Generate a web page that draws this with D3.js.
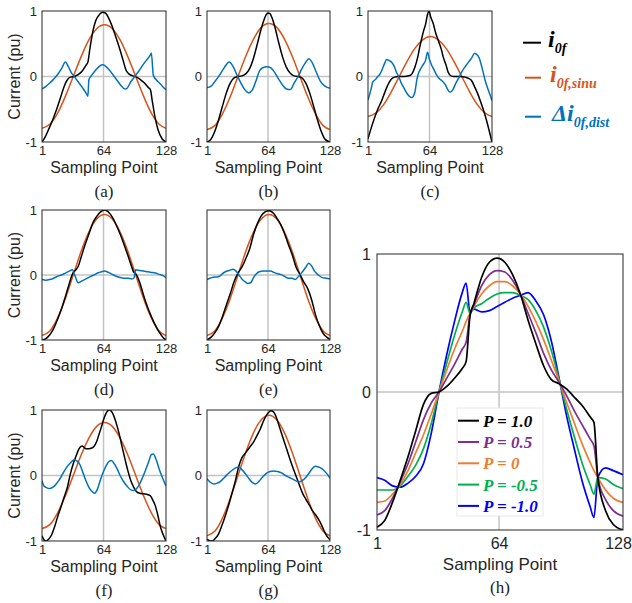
<!DOCTYPE html>
<html>
<head>
<meta charset="utf-8">
<title>Zero-sequence current waveforms</title>
<script src="https://cdn.jsdelivr.net/npm/d3@7"></script>
<style>
  body { margin: 0; background: #fff; }
</style>
</head>
<body>
<svg id="fig" width="632" height="603"></svg>
<script>
// ---- data: [sampling point, current (pu)] ----
var sinuS = [1,9,17,25,33,41,49,57,65,73,81,89,97,105,113,121,128];

var aSinu = [-0.79,-0.73,-0.56,-0.30,0,0.30,0.56,0.73,0.79,0.73,0.56,0.30,0,-0.30,-0.56,-0.73,-0.79];
var aBlack = [[1,-1],[4,-0.93],[8,-0.8],[12,-0.66],[16,-0.5],[20,-0.32],[24,-0.14],[27,-0.05],[30,-0.01],[34,0.0],[38,0.03],[42,0.08],[46,0.17],[48,0.22],[50,0.42],[53,0.68],[56,0.85],[60,0.95],[63,0.98],[66,0.97],[69,0.9],[72,0.8],[76,0.63],[80,0.45],[84,0.25],[87,0.1],[90,0.04],[94,0.01],[98,-0.01],[102,-0.05],[106,-0.1],[110,-0.17],[112,-0.2],[114,-0.38],[117,-0.64],[120,-0.82],[124,-0.95],[128,-1]];
var aDist = [[1,-0.19],[5,-0.15],[9,-0.1],[13,-0.04],[17,0.03],[21,0.12],[25,0.22],[28,0.15],[31,0.06],[34,0.0],[38,-0.08],[42,-0.16],[46,-0.25],[48,-0.3],[49,-0.05],[52,0.02],[56,0.1],[60,0.16],[63,0.18],[66,0.16],[70,0.1],[74,0.02],[78,-0.06],[82,-0.14],[86,-0.19],[88,-0.18],[92,-0.08],[96,0.0],[100,0.08],[104,0.17],[108,0.25],[112,0.33],[113,0.36],[115,0.02],[118,-0.05],[122,-0.11],[125,-0.16],[128,-0.2]];

var bSinu = [-0.81,-0.75,-0.57,-0.31,0,0.31,0.57,0.75,0.81,0.75,0.57,0.31,0,-0.31,-0.57,-0.75,-0.81];
var bBlack = [[1,-1],[5,-0.96],[9,-0.84],[13,-0.66],[17,-0.45],[21,-0.25],[25,-0.1],[29,-0.02],[33,0.0],[37,0.01],[41,0.04],[45,0.12],[49,0.28],[53,0.5],[57,0.73],[60,0.87],[62,0.94],[64,0.97],[66,0.96],[68,0.9],[71,0.76],[75,0.52],[79,0.3],[83,0.14],[87,0.05],[91,0.01],[95,0.0],[99,-0.02],[103,-0.1],[107,-0.25],[111,-0.45],[115,-0.66],[119,-0.84],[123,-0.96],[128,-1]];
var bDist = [[1,-0.17],[5,-0.15],[9,-0.08],[14,0.02],[19,0.14],[24,0.22],[28,0.15],[32,0.02],[36,-0.1],[40,-0.2],[44,-0.25],[48,-0.2],[52,-0.05],[55,0.08],[58,0.13],[63,0.15],[67,0.13],[71,0.06],[75,-0.04],[79,-0.13],[83,-0.19],[87,-0.2],[91,-0.1],[95,0.0],[99,0.12],[103,0.22],[106,0.27],[110,0.2],[114,0.06],[118,-0.07],[122,-0.14],[128,-0.18]];

var cSinu = [-0.61,-0.56,-0.43,-0.23,0,0.23,0.43,0.56,0.61,0.56,0.43,0.23,0,-0.23,-0.43,-0.56,-0.61];
var cBlack = [[1,-0.95],[4,-0.8],[8,-0.62],[11,-0.5],[15,-0.37],[18,-0.25],[22,-0.11],[25,-0.04],[28,-0.01],[32,0.0],[38,0.0],[43,0.01],[46,0.04],[49,0.14],[52,0.3],[54,0.45],[56,0.58],[58,0.7],[60,0.8],[62,0.95],[63.5,1.0],[65,0.92],[68,0.8],[70,0.68],[73,0.55],[76,0.42],[78,0.3],[81,0.17],[83,0.07],[86,0.01],[89,0.0],[95,0.0],[101,-0.01],[104,-0.03],[107,-0.06],[110,-0.15],[113,-0.25],[116,-0.37],[119,-0.5],[122,-0.65],[125,-0.82],[128,-1.0]];
var cDist = [[1,-0.36],[4,-0.2],[6,-0.08],[9,-0.04],[11,0.0],[13,0.03],[15,0.09],[18,0.2],[20,0.26],[23,0.24],[25,0.22],[28,0.15],[30,0.07],[33,-0.02],[35,-0.1],[38,-0.18],[41,-0.26],[44,-0.31],[46,-0.32],[49,-0.24],[51,-0.05],[53,0.06],[55,0.12],[57,0.17],[60,0.25],[62,0.37],[64,0.26],[66,0.18],[68,0.12],[71,0.03],[74,-0.03],[77,-0.07],[80,-0.12],[82,-0.18],[85,-0.24],[88,-0.2],[91,-0.1],[94,-0.02],[97,0.07],[101,0.16],[104,0.22],[107,0.28],[110,0.35],[112,0.34],[115,0.28],[118,0.12],[121,-0.06],[124,-0.2],[126,-0.28],[128,-0.37]];

var dSinu = [-0.93,-0.86,-0.66,-0.36,0,0.36,0.66,0.86,0.93,0.86,0.66,0.36,0,-0.36,-0.66,-0.86,-0.93];
var dBlack = [[1,-1],[5,-0.98],[9,-0.92],[13,-0.82],[17,-0.68],[21,-0.52],[25,-0.33],[29,-0.13],[31,-0.03],[33,0.04],[35,0.07],[38,0.13],[41,0.27],[45,0.46],[49,0.63],[53,0.8],[57,0.9],[61,0.97],[65,1.0],[69,0.97],[73,0.89],[77,0.77],[81,0.63],[85,0.47],[89,0.3],[93,0.12],[95,0.04],[97,0.02],[101,-0.11],[105,-0.31],[109,-0.49],[113,-0.64],[117,-0.77],[121,-0.88],[125,-0.96],[128,-1]];
var dDist = [[1,-0.07],[5,-0.08],[9,-0.07],[13,-0.05],[17,-0.02],[21,0.0],[25,0.03],[29,0.06],[32,0.08],[35,-0.02],[38,-0.12],[42,-0.09],[46,-0.06],[50,-0.03],[54,0.0],[58,0.03],[62,0.05],[65,0.06],[69,0.04],[73,0.01],[77,-0.02],[81,-0.04],[85,-0.05],[89,-0.05],[93,-0.06],[95,-0.05],[97,0.08],[101,0.07],[105,0.06],[109,0.05],[113,0.04],[117,0.03],[121,0.01],[125,-0.01],[128,-0.04]];

var eSinu = [-0.93,-0.86,-0.66,-0.36,0,0.36,0.66,0.86,0.93,0.86,0.66,0.36,0,-0.36,-0.66,-0.86,-0.93];
var eBlack = [[1,-1],[5,-0.96],[9,-0.89],[13,-0.79],[17,-0.64],[21,-0.46],[25,-0.29],[29,-0.1],[33,0.03],[37,0.12],[41,0.25],[45,0.4],[49,0.62],[53,0.79],[57,0.91],[61,0.97],[65,0.99],[69,0.96],[73,0.88],[77,0.78],[81,0.64],[85,0.47],[89,0.31],[93,0.12],[97,0.01],[101,-0.11],[105,-0.21],[109,-0.38],[113,-0.61],[117,-0.78],[121,-0.9],[125,-0.96],[128,-0.99]];
var eDist = [[1,-0.07],[4,-0.05],[6,-0.04],[9,-0.03],[11,-0.03],[14,-0.02],[17,0.02],[20,0.05],[24,0.07],[28,0.09],[31,0.06],[34,0.0],[37,-0.06],[40,-0.1],[43,-0.13],[46,-0.12],[49,-0.04],[52,0.02],[55,0.05],[59,0.06],[63,0.06],[67,0.06],[70,0.04],[74,0.02],[77,0.01],[81,-0.02],[85,-0.05],[89,-0.05],[92,-0.07],[95,-0.03],[99,0.04],[103,0.12],[106,0.18],[109,0.14],[112,0.06],[116,0.0],[120,-0.04],[124,-0.05],[128,-0.06]];

var fSinu = [-0.81,-0.75,-0.57,-0.31,0,0.31,0.57,0.75,0.81,0.75,0.57,0.31,0,-0.31,-0.57,-0.75,-0.81];
var fBlack = [[1,-0.92],[3,-0.98],[5,-1.0],[8,-0.97],[11,-0.9],[14,-0.78],[17,-0.63],[20,-0.5],[23,-0.36],[27,-0.18],[30,0.02],[33,0.18],[36,0.3],[38,0.38],[40,0.43],[42,0.45],[44,0.43],[46,0.41],[49,0.41],[52,0.42],[54,0.44],[57,0.52],[59,0.61],[62,0.75],[64,0.85],[66,0.93],[68,0.98],[70,1.0],[72,0.98],[74,0.93],[77,0.8],[80,0.64],[83,0.44],[86,0.25],[89,0.07],[92,-0.08],[95,-0.18],[98,-0.25],[101,-0.27],[105,-0.28],[109,-0.29],[112,-0.31],[114,-0.36],[117,-0.46],[120,-0.63],[122,-0.77],[125,-0.9],[128,-1.0]];
var fDist = [[1,-0.08],[3,-0.16],[5,-0.18],[9,-0.2],[13,-0.17],[16,-0.12],[19,-0.06],[22,0.02],[26,0.12],[30,0.19],[34,0.24],[37,0.22],[40,0.16],[43,0.04],[46,-0.08],[49,-0.18],[52,-0.24],[55,-0.27],[58,-0.2],[61,-0.06],[64,0.06],[67,0.16],[70,0.22],[72,0.23],[75,0.18],[78,0.1],[81,0.0],[84,-0.08],[88,-0.16],[92,-0.22],[95,-0.23],[98,-0.2],[101,-0.13],[104,-0.03],[107,0.08],[110,0.2],[113,0.32],[115,0.33],[118,0.24],[121,0.1],[124,-0.02],[128,-0.16]];

var gSinu = [-0.92,-0.85,-0.65,-0.35,0,0.35,0.65,0.85,0.92,0.85,0.65,0.35,0,-0.35,-0.65,-0.85,-0.92];
var gBlack = [[1,-0.97],[3,-0.99],[6,-1.0],[9,-0.97],[13,-0.89],[16,-0.78],[20,-0.61],[24,-0.42],[27,-0.26],[30,-0.1],[32,0.03],[34,0.15],[37,0.27],[40,0.33],[43,0.39],[46,0.45],[49,0.51],[53,0.62],[56,0.71],[59,0.82],[62,0.91],[65,0.97],[67,0.99],[69,0.98],[71,0.94],[73,0.87],[75,0.78],[78,0.64],[82,0.46],[86,0.28],[89,0.15],[93,-0.01],[96,-0.13],[100,-0.28],[103,-0.36],[107,-0.46],[110,-0.54],[114,-0.62],[117,-0.69],[120,-0.78],[122,-0.85],[125,-0.93],[128,-0.98]];
var gDist = [[1,-0.05],[4,-0.1],[8,-0.13],[11,-0.12],[15,-0.09],[19,-0.03],[23,0.03],[27,0.08],[31,0.12],[34,0.13],[37,0.09],[41,0.02],[45,-0.06],[48,-0.11],[51,-0.13],[54,-0.1],[58,-0.03],[62,0.03],[66,0.06],[70,0.07],[74,0.06],[78,0.04],[82,0.0],[86,-0.03],[90,-0.06],[94,-0.09],[96,-0.1],[99,-0.08],[103,-0.03],[107,0.05],[110,0.11],[113,0.14],[116,0.13],[120,0.1],[124,0.04],[128,-0.04]];

// panel (h): one curve per P value on a shared sample grid
var hS = [1,5,9,13,17,21,25,29,33,37,41,45,47,49,51,55,59,63,67,71,75,79,83,87,91,95,99,103,107,111,113,115,119,123,128];
var hP10  = [-0.98,-0.93,-0.80,-0.64,-0.47,-0.28,-0.09,-0.01,0.0,0.04,0.10,0.17,0.22,0.55,0.64,0.83,0.94,0.97,0.94,0.85,0.71,0.52,0.35,0.19,0.09,0.06,0.02,-0.04,-0.10,-0.18,-0.22,-0.62,-0.86,-0.96,-1.0];
var hP05  = [-0.89,-0.86,-0.77,-0.65,-0.52,-0.36,-0.20,-0.08,0.0,0.10,0.20,0.31,0.36,0.56,0.63,0.77,0.85,0.88,0.87,0.81,0.71,0.57,0.43,0.28,0.16,0.07,-0.03,-0.14,-0.24,-0.34,-0.39,-0.62,-0.78,-0.86,-0.90];
var hP0   = [-0.80,-0.79,-0.74,-0.67,-0.57,-0.44,-0.31,-0.16,0.0,0.16,0.31,0.44,0.51,0.57,0.62,0.71,0.77,0.80,0.80,0.77,0.71,0.62,0.51,0.38,0.23,0.08,-0.08,-0.23,-0.38,-0.51,-0.57,-0.62,-0.71,-0.77,-0.80];
var hPm05 = [-0.71,-0.71,-0.71,-0.68,-0.61,-0.53,-0.41,-0.23,0.0,0.21,0.41,0.58,0.65,0.57,0.61,0.64,0.68,0.71,0.72,0.72,0.70,0.67,0.59,0.47,0.30,0.09,-0.13,-0.33,-0.52,-0.67,-0.74,-0.62,-0.63,-0.67,-0.70];
var hPm10 = [-0.62,-0.64,-0.68,-0.69,-0.66,-0.61,-0.52,-0.30,0.0,0.27,0.51,0.72,0.79,0.58,0.60,0.58,0.59,0.62,0.65,0.68,0.70,0.72,0.66,0.56,0.37,0.10,-0.18,-0.42,-0.65,-0.83,-0.91,-0.62,-0.55,-0.57,-0.60];

var xTicks = [1, 64, 128];
var yTicks = [-1, 0, 1];
var hLabels = ["P = 1.0", "P = 0.5", "P = 0", "P = -0.5", "P = -1.0"];
var hColors = ["#000000", "#7E2F8E", "#EE7D31", "#00B050", "#0000FF"];

var BLACK = "#000000", ORANGE = "#D95319", BLUE = "#0072BD";
var SANS = "'Liberation Sans', Arial, Helvetica, sans-serif";
var SERIF = "'Liberation Serif', 'Times New Roman', serif";
var INK = "#262626";

var svg = d3.select("#fig");
svg.append("rect").attr("width", 632).attr("height", 603).attr("fill", "#fff");

function panel(cfg) {
	var x = d3.scaleLinear().domain([1, 128]).range([cfg.x0, cfg.x1]);
	var y = d3.scaleLinear().domain([-1, 1]).range([cfg.y1, cfg.y0]);
	var g = svg.append("g");

	svg.append("clipPath").attr("id", "clip-" + cfg.id)
	  .append("rect")
	  .attr("x", cfg.x0).attr("y", cfg.y0)
	  .attr("width", cfg.x1 - cfg.x0).attr("height", cfg.y1 - cfg.y0);

	// grid at 64 and 0
	g.append("line").attr("x1", x(64)).attr("x2", x(64)).attr("y1", cfg.y0).attr("y2", cfg.y1)
	  .attr("stroke", "#c3c3c3").attr("stroke-width", 1.5);
	g.append("line").attr("x1", cfg.x0).attr("x2", cfg.x1).attr("y1", y(0)).attr("y2", y(0))
	  .attr("stroke", "#c3c3c3").attr("stroke-width", 1.5);

	var cg = g.append("g").attr("clip-path", "url(#clip-" + cfg.id + ")");
	cfg.series.forEach(function(s) {
		var line = d3.line()
		  .x(function(d) { return x(d[0]); })
		  .y(function(d) { return y(d[1]); })
		  .curve(s.curve || d3.curveMonotoneX);
		cg.append("path").datum(s.data)
		  .attr("d", line)
		  .attr("fill", "none")
		  .attr("stroke", s.color)
		  .attr("stroke-width", s.width || 1.5)
		  .attr("stroke-linejoin", "round");
	});

	if (cfg.legend) cfg.legend(g);

	// box
	g.append("rect").attr("x", cfg.x0).attr("y", cfg.y0)
	  .attr("width", cfg.x1 - cfg.x0).attr("height", cfg.y1 - cfg.y0)
	  .attr("fill", "none").attr("stroke", INK).attr("stroke-width", 1);

	// x axis labels
	var xa = g.append("g")
	  .attr("transform", "translate(0," + cfg.y1 + ")")
	  .call(d3.axisBottom(x).tickValues(xTicks).tickSize(0).tickPadding(cfg.xPad));
	xa.select(".domain").remove();
	xa.attr("font-size", cfg.tickFont).attr("font-family", SANS).attr("color", INK);
	if (cfg.lastDx) xa.selectAll(".tick text").filter(function(d) { return d === 128; }).attr("dx", cfg.lastDx);

	if (cfg.yTicks) {
		var ya = g.append("g")
		  .attr("transform", "translate(" + cfg.x0 + ",0)")
		  .call(d3.axisLeft(y).tickValues(yTicks).tickSize(0).tickPadding(cfg.yPad)
		    .tickFormat(function(d) { return String(d); }));
		ya.select(".domain").remove();
		ya.attr("font-size", cfg.tickFont).attr("font-family", SANS).attr("color", INK);
	}

	var cx = (cfg.x0 + cfg.x1) / 2;
	g.append("text").attr("x", cx).attr("y", cfg.y1 + cfg.titleDy)
	  .attr("text-anchor", "middle").attr("font-family", SANS)
	  .attr("font-size", cfg.titleFont).attr("fill", INK)
	  .text("Sampling Point");

	if (cfg.yLabel) {
		g.append("text")
		  .attr("transform", "translate(20," + y(0) + ")rotate(-90)")
		  .attr("text-anchor", "middle").attr("font-family", SANS)
		  .attr("font-size", 16).attr("fill", INK)
		  .text("Current (pu)");
	}

	g.append("text").attr("x", cx).attr("y", cfg.y1 + cfg.letterDy)
	  .attr("text-anchor", "middle").attr("font-family", SERIF)
	  .attr("font-size", 17).attr("fill", "#222")
	  .text(cfg.letter);
}

function small(id, x0, x1, y0, y1, black, sinu, dist, yT, yL) {
	panel({
		id: id, x0: x0, x1: x1, y0: y0, y1: y1,
		xPad: 4, yPad: 5, tickFont: 13, titleFont: 16, titleDy: 30.5, letterDy: 54.5,
		yTicks: yT, yLabel: yL, letter: "(" + id + ")",
		series: [
			{ data: d3.zip(sinuS, sinu), color: ORANGE, curve: d3.curveNatural },
			{ data: black, color: BLACK },
			{ data: dist, color: BLUE }
		]
	});
}

small("a", 42, 166, 11, 142, aBlack, aSinu, aDist, true, true);
small("b", 207, 330, 11, 142, bBlack, bSinu, bDist, true, false);
small("c", 368, 492, 11, 142, cBlack, cSinu, cDist, true, false);
small("d", 42, 166, 210, 340, dBlack, dSinu, dDist, true, true);
small("e", 207, 330, 210, 340, eBlack, eSinu, eDist, false, false);
small("f", 42, 166, 410, 541, fBlack, fSinu, fDist, true, true);
small("g", 207, 330, 410, 541, gBlack, gSinu, gDist, true, false);

var hSeries = [hP10, hP05, hP0, hPm05, hPm10];
panel({
	id: "h", x0: 377, x1: 623, y0: 254, y1: 530,
	xPad: 8, yPad: 6, tickFont: 16, titleFont: 17, titleDy: 39.5, letterDy: 63, lastDx: -5,
	yTicks: true, yLabel: false, letter: "(h)",
	series: hSeries.slice().reverse().map(function(v, i) {
		return { data: d3.zip(hS, v), color: hColors[hSeries.length - 1 - i], width: 1.7 };
	}),
	legend: function(g) {
		var lg = g.append("g");
		lg.append("rect").attr("x", 457).attr("y", 408).attr("width", 86).attr("height", 108)
		  .attr("fill", "#fff").attr("stroke", "#e2e2e2").attr("stroke-width", 0.8);
		hLabels.forEach(function(lab, i) {
			var yy = 420.7 + i * 21.3;
			lg.append("line").attr("x1", 458).attr("x2", 479).attr("y1", yy).attr("y2", yy)
			  .attr("stroke", hColors[i]).attr("stroke-width", 2);
			lg.append("text").attr("x", 483).attr("y", yy + 6)
			  .attr("font-family", SERIF).attr("font-style", "italic").attr("font-weight", "bold")
			  .attr("font-size", 17).attr("fill", hColors[i])
			  .text(lab);
		});
	}
});

// top-right legend
var topLegend = [
	{ y: 42.7, color: BLACK, x1: 523, tx: 548, pre: "", sub: "0f" },
	{ y: 77.7, color: ORANGE, x1: 525, tx: 550, pre: "", sub: "0f,sinu" },
	{ y: 116.7, color: BLUE, x1: 525, tx: 552, pre: "\u0394", sub: "0f,dist" }
];
topLegend.forEach(function(e) {
	svg.append("line").attr("x1", e.x1).attr("x2", 541).attr("y1", e.y).attr("y2", e.y)
	  .attr("stroke", e.color).attr("stroke-width", 2);
	var t = svg.append("text").attr("x", e.tx).attr("y", e.y + 4.5)
	  .attr("font-family", SERIF).attr("font-style", "italic").attr("font-weight", "bold")
	  .attr("font-size", 24).attr("fill", e.color);
	t.append("tspan").text(e.pre + "i");
	t.append("tspan").attr("font-size", 14).attr("dy", 6).text(e.sub);
});
</script>
</body>
</html>
